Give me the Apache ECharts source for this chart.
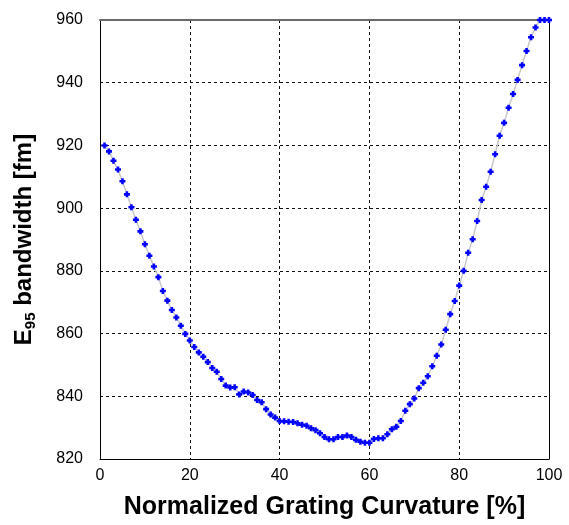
<!DOCTYPE html>
<html>
<head>
<meta charset="utf-8">
<script src="https://cdn.jsdelivr.net/npm/echarts@6/dist/echarts.min.js"></script>
<style>
  html, body { margin: 0; padding: 0; background: #fff; }
  #chart { width: 569px; height: 525px; }
</style>
</head>
<body>
<div id="chart"></div>
<script>
// Normalized grating curvature [%]
const curvature = [
  1, 2, 3, 4, 5, 6, 7, 8, 9, 10,
  11, 12, 13, 14, 15, 16, 17, 18, 19, 20,
  21, 22, 23, 24, 25, 26, 27, 28, 29, 30,
  31, 32, 33, 34, 35, 36, 37, 38, 39, 40,
  41, 42, 43, 44, 45, 46, 47, 48, 49, 50,
  51, 52, 53, 54, 55, 56, 57, 58, 59, 60,
  61, 62, 63, 64, 65, 66, 67, 68, 69, 70,
  71, 72, 73, 74, 75, 76, 77, 78, 79, 80,
  81, 82, 83, 84, 85, 86, 87, 88, 89, 90,
  91, 92, 93, 94, 95, 96, 97, 98, 99, 100
];

// E95 bandwidth [fm]
const bandwidth = [
  920.0, 918.1, 915.1, 912.3, 908.6, 904.4, 900.3, 896.3, 892.6, 888.5,
  884.8, 881.4, 878.0, 873.6, 870.5, 867.5, 865.1, 862.5, 859.9, 857.8,
  855.7, 854.0, 852.6, 850.9, 849.0, 847.8, 845.5, 843.4, 842.8, 842.9,
  840.6, 841.5, 841.2, 840.4, 838.8, 838.1, 835.9, 834.2, 833.2, 832.1,
  832.0, 831.9, 831.8, 831.4, 830.9, 830.6, 829.8, 829.2, 828.2, 827.0,
  826.3, 826.3, 827.0, 827.0, 827.5, 827.0, 826.1, 825.5, 825.2, 825.2,
  826.4, 826.6, 826.6, 827.9, 829.5, 830.3, 832.1, 835.4, 837.5, 839.3,
  842.6, 844.3, 846.4, 849.6, 852.9, 856.5, 861.2, 866.2, 870.4, 875.3,
  880.0, 885.8, 890.1, 895.9, 902.6, 906.8, 911.6, 917.2, 923.1, 927.2,
  932.0, 936.4, 940.9, 945.6, 950.1, 954.5, 957.6, 960.0, 960.0, 960.0
];

const xTicks = [0, 20, 40, 60, 80, 100];
const yTicks = [820, 840, 860, 880, 900, 920, 940, 960];

const FONT = 'Arial, "Liberation Sans", sans-serif';
const points = curvature.map((c, i) => [c, bandwidth[i]]);

const gridDash = { color: '#111', width: 1, type: [3, 3] };

const chart = echarts.init(document.getElementById('chart'), null, { renderer: 'canvas' });
chart.setOption({
  animation: false,
  backgroundColor: '#fff',
  grid: { left: 100, top: 20, right: 20, bottom: 59, containLabel: false },
  xAxis: [
    {
      type: 'value',
      min: xTicks[0],
      max: xTicks[xTicks.length - 1],
      interval: xTicks[1] - xTicks[0],
      position: 'bottom',
      name: 'Normalized Grating Curvature [%]',
      nameLocation: 'middle',
      nameGap: 36,
      nameTextStyle: { fontFamily: FONT, fontWeight: 'bold', fontSize: 25, color: '#000' },
      axisLine: { show: true, lineStyle: { color: '#000', width: 1 } },
      axisTick: { show: false },
      axisLabel: { fontFamily: FONT, fontSize: 16, color: '#000', margin: 9 },
      splitLine: { show: true, lineStyle: gridDash }
    },
    {
      type: 'value',
      min: xTicks[0],
      max: xTicks[xTicks.length - 1],
      interval: xTicks[1] - xTicks[0],
      position: 'top',
      axisLine: { show: true, onZero: false, lineStyle: { color: '#6a6a6a', width: 2 } },
      axisTick: { show: false },
      axisLabel: { show: false },
      splitLine: { show: false }
    }
  ],
  yAxis: [
    {
      type: 'value',
      min: yTicks[0],
      max: yTicks[yTicks.length - 1],
      interval: yTicks[1] - yTicks[0],
      position: 'left',
      name: '{b|E}{s|95}{b| bandwidth [fm]}',
      nameLocation: 'middle',
      nameRotate: 90,
      nameGap: 62,
      nameTextStyle: {
        color: '#000',
        rich: {
          b: { fontFamily: FONT, fontWeight: 'bold', fontSize: 24, color: '#000' },
          s: { fontFamily: FONT, fontWeight: 'bold', fontSize: 15, color: '#000', padding: [12, 0, 0, 0] }
        }
      },
      axisLine: { show: true, lineStyle: { color: '#000', width: 1 } },
      axisTick: { show: false },
      axisLabel: { fontFamily: FONT, fontSize: 16, color: '#000', margin: 17 },
      splitLine: { show: true, lineStyle: gridDash }
    },
    {
      type: 'value',
      min: yTicks[0],
      max: yTicks[yTicks.length - 1],
      interval: yTicks[1] - yTicks[0],
      position: 'right',
      axisLine: { show: true, onZero: false, lineStyle: { color: '#000', width: 1 } },
      axisTick: { show: false },
      axisLabel: { show: false },
      splitLine: { show: false }
    }
  ],
  series: [
    {
      type: 'line',
      data: points,
      xAxisIndex: 0,
      yAxisIndex: 0,
      lineStyle: { color: '#c8c8c8', width: 1.5 },
      symbol: 'path://M2,0H5V2H7V5H5V7H2V5H0V2H2Z',
      symbolSize: 6,
      showAllSymbol: true,
      itemStyle: { color: '#0000ff', borderWidth: 0 },
      clip: false
    }
  ]
});
</script>
</body>
</html>
